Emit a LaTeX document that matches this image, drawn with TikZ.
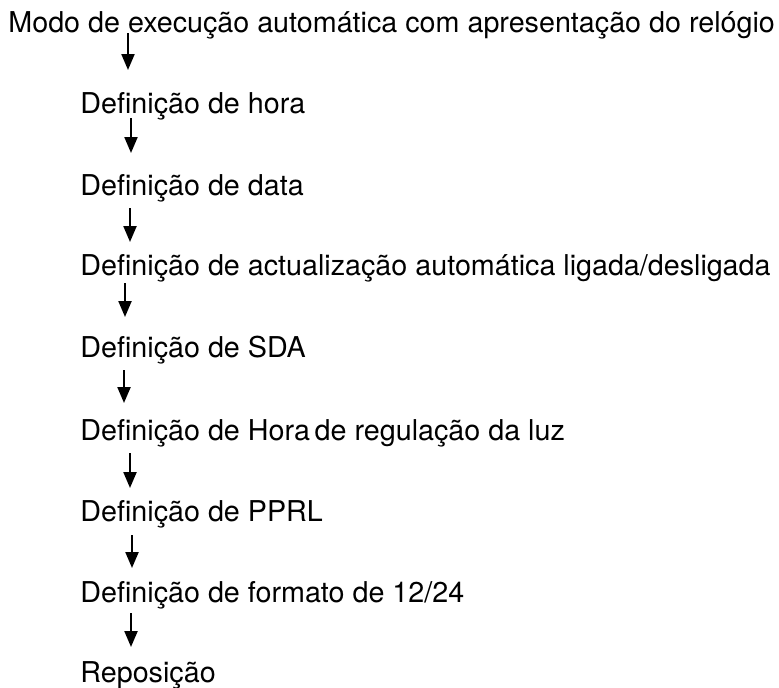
\documentclass[tikz,border=0pt]{standalone}
\usepackage{fontspec}
\setmainfont{TeX Gyre Heros}
\usetikzlibrary{arrows.meta,calc}

\begin{document}
\begin{tikzpicture}[x=0.5pt,y=-0.5pt,
  passo/.style={anchor=base west,inner sep=0pt,font=\fontsize{14.35pt}{17pt}\selectfont},
  seta/.style={line width=1.1pt,-{Triangle[length=8pt,width=6.5pt]}}]
\useasboundingbox (0,0) rectangle (779,687);
\node[passo] (modo) at (8,32) {Modo de execução automática com apresentação do relógio};
\node[passo] (hora) at (80,113) {Definição de hora};
\node[passo] (data) at (80,195) {Definição de data};
\node[passo] (actual) at (80,275) {Definição de actualização automática ligada/desligada};
\node[passo] (sda) at (80,357) {Definição de SDA};
\node[passo] (luz) at (80,440) {Definição de Hora\,de regulação da luz};
\node[passo] (pprl) at (80,521) {Definição de PPRL};
\node[passo] (formato) at (80,602) {Definição de formato de 12/24};
\node[passo] (repos) at (80,682) {Reposição};
% setas entre os passos
\draw[seta] ($(modo.base west)+(120,1)$) -- ($(hora.base west)+(48,-43)$);
\draw[seta] ($(hora.base west)+(51,5)$) -- ($(data.base west)+(51,-42)$);
\draw[seta] ($(data.base west)+(50,13)$) -- ($(actual.base west)+(50,-33)$);
\draw[seta] ($(actual.base west)+(45,8)$) -- ($(sda.base west)+(45,-40)$);
\draw[seta] ($(sda.base west)+(44,13)$) -- ($(luz.base west)+(44,-37)$);
\draw[seta] ($(luz.base west)+(50,13)$) -- ($(pprl.base west)+(50,-33)$);
\draw[seta] ($(pprl.base west)+(52,14)$) -- ($(formato.base west)+(52,-34)$);
\draw[seta] ($(formato.base west)+(51,11)$) -- ($(repos.base west)+(51,-35)$);
\end{tikzpicture}
\end{document}
